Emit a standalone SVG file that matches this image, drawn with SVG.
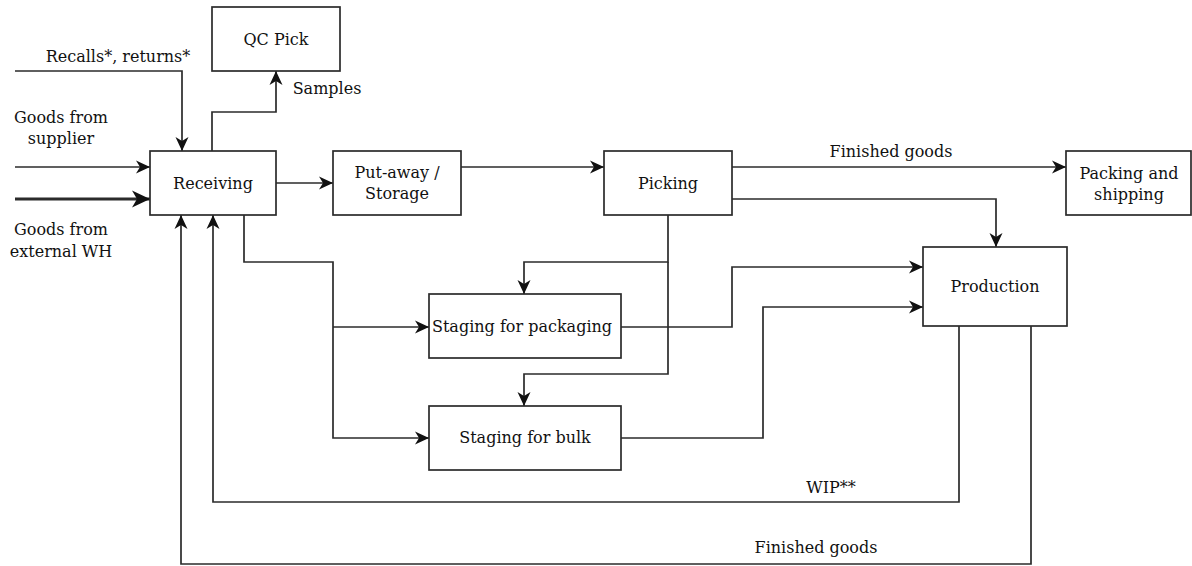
<svg xmlns="http://www.w3.org/2000/svg" width="1192" height="566" viewBox="0 0 1192 566">
  <style>
    .box { fill: #ffffff; stroke: #2b2b2b; stroke-width: 1.7; }
    .lbl { font-family: "DejaVu Serif", "Liberation Serif", serif; font-size: 16px; fill: #111111; text-anchor: middle; }
    .wire { fill: none; stroke: #2b2b2b; stroke-width: 1.7; }
    .arr { marker-end: url(#head); }
    .heavy { stroke-width: 3.2; marker-end: url(#headBig); }
  </style>
  <defs>
    <marker id="head" markerUnits="userSpaceOnUse" markerWidth="15" markerHeight="14" refX="14" refY="7" orient="auto">
      <path d="M0,0.5 L14,7 L0,13.5 L4,7 Z" fill="#111111"/>
    </marker>
    <marker id="headBig" markerUnits="userSpaceOnUse" markerWidth="19" markerHeight="18" refX="18" refY="9" orient="auto">
      <path d="M0,0.5 L18,9 L0,17.5 L5,9 Z" fill="#111111"/>
    </marker>
  </defs>

  <rect width="1192" height="566" fill="#ffffff"/>

  <!-- connectors -->
  <g id="connectors">
    <path class="wire arr" d="M15,71 H182 V151"/>
    <path class="wire arr" d="M15,167 H150"/>
    <path class="wire heavy" d="M15,199 H150"/>
    <path class="wire arr" d="M212,151 V112 H276 V71"/>
    <path class="wire arr" d="M276,183 H333"/>
    <path class="wire arr" d="M461,167 H604"/>
    <path class="wire arr" d="M732,167 H1066"/>
    <path class="wire arr" d="M732,199 H996 V247"/>
    <path class="wire arr" d="M668,215 V262 H524 V294"/>
    <path class="wire arr" d="M668,262 V374 H524 V406"/>
    <path class="wire arr" d="M244,215 V262 H333 V438 H429"/>
    <path class="wire arr" d="M333,327 H429"/>
    <path class="wire arr" d="M621,327 H732 V267 H923"/>
    <path class="wire arr" d="M621,438 H763 V307 H923"/>
    <path class="wire arr" d="M959,326 V502 H213 V215"/>
    <path class="wire arr" d="M1031,326 V564 H181 V215"/>
  </g>

  <!-- connector labels -->
  <g id="edge-labels">
    <text class="lbl" x="118" y="62">Recalls*, returns*</text>
    <text class="lbl" x="327" y="94">Samples</text>
    <text class="lbl" x="61" y="123">Goods from</text>
    <text class="lbl" x="61" y="144">supplier</text>
    <text class="lbl" x="61" y="235">Goods from</text>
    <text class="lbl" x="61" y="257">external WH</text>
    <text class="lbl" x="891" y="157">Finished goods</text>
    <text class="lbl" x="831" y="493">WIP**</text>
    <text class="lbl" x="816" y="553">Finished goods</text>
  </g>

  <g id="qc-pick">
    <rect class="box" x="212" y="7" width="128" height="64"/>
    <text class="lbl" x="276" y="45">QC Pick</text>
  </g>

  <g id="receiving">
    <rect class="box" x="150" y="151" width="126" height="64"/>
    <text class="lbl" x="213" y="189">Receiving</text>
  </g>

  <g id="put-away">
    <rect class="box" x="333" y="151" width="128" height="64"/>
    <text class="lbl" x="397" y="178">Put-away /</text>
    <text class="lbl" x="397" y="199">Storage</text>
  </g>

  <g id="picking">
    <rect class="box" x="604" y="151" width="128" height="64"/>
    <text class="lbl" x="668" y="189">Picking</text>
  </g>

  <g id="packing-shipping">
    <rect class="box" x="1066" y="151" width="125" height="64"/>
    <text class="lbl" x="1129" y="179">Packing and</text>
    <text class="lbl" x="1129" y="200">shipping</text>
  </g>

  <g id="production">
    <rect class="box" x="923" y="247" width="144" height="79"/>
    <text class="lbl" x="995" y="292">Production</text>
  </g>

  <g id="staging-packaging">
    <rect class="box" x="429" y="294" width="192" height="64"/>
    <text class="lbl" x="522" y="332">Staging for packaging</text>
  </g>

  <g id="staging-bulk">
    <rect class="box" x="429" y="406" width="192" height="64"/>
    <text class="lbl" x="525" y="443">Staging for bulk</text>
  </g>
</svg>
